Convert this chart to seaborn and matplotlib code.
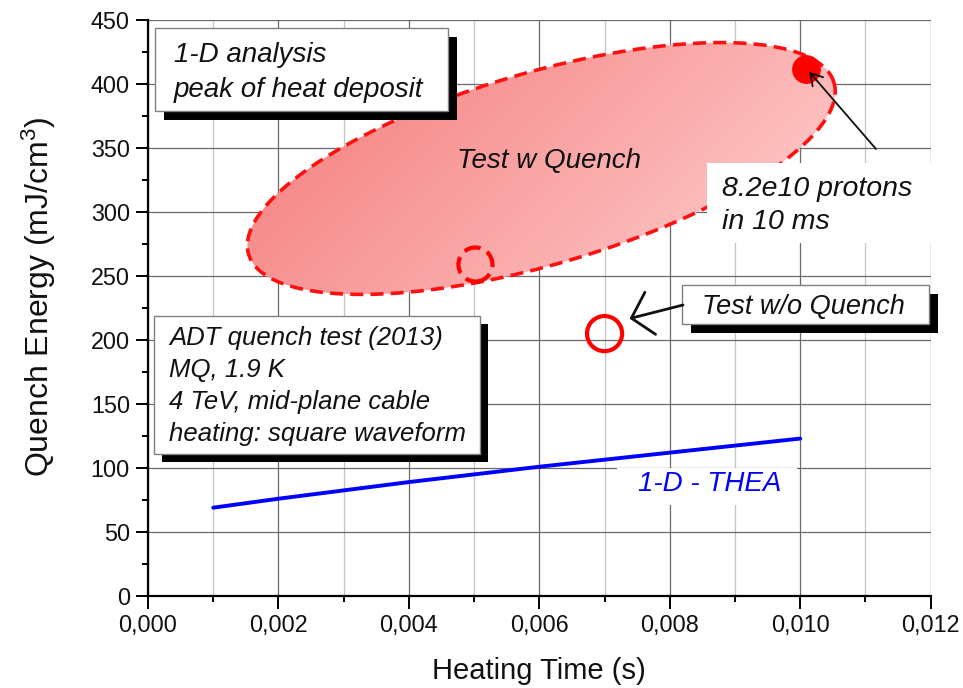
import numpy as np
import pandas as pd
import matplotlib
matplotlib.use("Agg")
import matplotlib.pyplot as plt
import seaborn as sns
from matplotlib.patches import Rectangle, Polygon
from matplotlib.ticker import MultipleLocator, FuncFormatter

# ---------------- data ----------------
thea_time = [0.001, 0.002, 0.004, 0.006, 0.008, 0.010]
thea_energy = [69, 76, 89, 101, 112, 123]

quench_time = [0.01009]
quench_energy = [412]

noquench_time = [0.00700]
noquench_energy = [205]

dashed_time = [0.00502]
dashed_energy = [259]

# "Test w Quench" region (centre in data units, semi-axes in pixels, angle in deg)
region_center = (0.00603, 334)
region_axes_px = (305, 96)
region_angle = 16.35

box1_lines = ["1-D analysis", "peak of heat deposit"]
box2_lines = ["ADT quench test (2013)", "MQ, 1.9 K", "4 TeV, mid-plane cable",
              "heating: square waveform"]
proton_lines = ["8.2e10 protons", "in 10 ms"]

# ---------------- style ----------------
sns.set_theme(style="white")
plt.rcParams["font.family"] = ["Liberation Sans", "DejaVu Sans"]
plt.rcParams["mathtext.fontset"] = "custom"
plt.rcParams["mathtext.rm"] = "Liberation Sans"
plt.rcParams["mathtext.it"] = "Liberation Sans:italic"

W, H = 963, 688
fig = plt.figure(figsize=(W / 100, H / 100), dpi=100)
AX_L, AX_R, AX_T, AX_B = 148, 930.7, 20, 596
ax = fig.add_axes([AX_L / W, (H - AX_B) / H, (AX_R - AX_L) / W, (AX_B - AX_T) / H])
ax.set_xlim(0, 0.012)
ax.set_ylim(0, 450)

px_per_x = (AX_R - AX_L) / 0.012
px_per_y = (AX_B - AX_T) / 450.0


def axf(px, py):
    return ((px - AX_L) / (AX_R - AX_L), (AX_B - py) / (AX_B - AX_T))


# grid
ax.xaxis.set_major_locator(MultipleLocator(0.002))
ax.xaxis.set_minor_locator(MultipleLocator(0.001))
ax.yaxis.set_major_locator(MultipleLocator(50))
ax.yaxis.set_minor_locator(MultipleLocator(25))
ax.set_axisbelow(True)
ax.grid(True, which="major", axis="both", color="#6a6a6a", lw=0.9, zorder=0)
ax.grid(True, which="minor", axis="x", color="#c4c4c4", lw=0.9, zorder=0)

for s in ["top", "right"]:
    ax.spines[s].set_visible(False)
for s in ["left", "bottom"]:
    ax.spines[s].set_color("black")
    ax.spines[s].set_linewidth(1.6)
    ax.spines[s].set_zorder(6)

ax.tick_params(which="major", direction="out", length=9, width=1.4, color="black",
               labelsize=16.8, labelcolor="#111111", pad=4.0, left=True, bottom=True)
ax.tick_params(which="minor", direction="out", length=4.5, width=1.4, color="black",
               left=True, bottom=True)
ax.xaxis.set_major_formatter(FuncFormatter(lambda v, p: f"{v:.3f}".replace(".", ",")))
ax.yaxis.set_major_formatter(FuncFormatter(lambda v, p: f"{v:.0f}"))

ax.set_xlabel("Heating Time (s)", fontsize=21, color="#111111")
ax.set_ylabel("Quench Energy (mJ/cm$^{3}$)", fontsize=23, color="#111111")
ax.xaxis.set_label_coords(0.5, (AX_B - 657) / (AX_B - AX_T))
ax.yaxis.set_label_coords((58 - AX_L) / (AX_R - AX_L), (AX_B - 297) / (AX_B - AX_T))

# ---------------- "Test w Quench" region with gradient ----------------
cx, cy = region_center
a_px, b_px = region_axes_px
th = np.deg2rad(region_angle)
t = np.linspace(0, 2 * np.pi, 400)
ex_px = a_px * np.cos(t) * np.cos(th) - b_px * np.sin(t) * np.sin(th)
ey_px = a_px * np.cos(t) * np.sin(th) + b_px * np.sin(t) * np.cos(th)
ex = cx + ex_px / px_per_x
ey = cy + ey_px / px_per_y
poly = Polygon(np.column_stack([ex, ey]), closed=True, facecolor="none",
               edgecolor="none", zorder=2)
ax.add_patch(poly)

gx = np.linspace(ex.min(), ex.max(), 300)
gy = np.linspace(ey.min(), ey.max(), 150)
GX, GY = np.meshgrid(gx, gy)
sx = GX * px_per_x
sy = -GY * px_per_y
val = sx + sy
val = (val - val.min()) / (val.max() - val.min())
c0 = np.array([245, 120, 120]) / 255.0
c1 = np.array([255, 210, 210]) / 255.0
img = c0[None, None, :] * (1 - val[..., None]) + c1[None, None, :] * val[..., None]
im = ax.imshow(img, extent=[gx[0], gx[-1], gy[0], gy[-1]], origin="lower",
               aspect="auto", zorder=2, interpolation="bilinear")
im.set_clip_path(poly)
ax.plot(ex, ey, color="#ff1010", lw=2.6, ls=(0, (3.6, 2.0)), zorder=3)
ax.set_xlim(0, 0.012)
ax.set_ylim(0, 450)

# ---------------- boxes ----------------
def shadow_box(x0, y0, x1, y1, dx, dy, edge="#808080"):
    a0 = axf(x0 + dx, y1 + dy)
    a1 = axf(x1 + dx, y0 + dy)
    ax.add_patch(Rectangle(a0, a1[0] - a0[0], a1[1] - a0[1], transform=ax.transAxes,
                           facecolor="black", edgecolor="none", zorder=7, clip_on=False))
    b0 = axf(x0, y1)
    b1 = axf(x1, y0)
    ax.add_patch(Rectangle(b0, b1[0] - b0[0], b1[1] - b0[1], transform=ax.transAxes,
                           facecolor="white", edgecolor=edge, lw=1.0, zorder=8, clip_on=False))


def text_lines(lines, x_px, y0_px, dy_px, size, color="#111111", z=9):
    for i, line in enumerate(lines):
        ax.text(*axf(x_px, y0_px + i * dy_px), line, transform=ax.transAxes,
                fontsize=size, style="italic", va="baseline", ha="left",
                color=color, zorder=z)


shadow_box(155, 28, 448, 111, 9, 9)
text_lines(box1_lines, 174, 62, 35, 20)

shadow_box(154, 316, 480, 454, 8, 8)
text_lines(box2_lines, 169, 345, 32, 18.5)

shadow_box(682, 285, 929, 324, 9, 9)
text_lines(["Test w/o Quench"], 702, 314, 0, 19.5)

# white box for the proton annotation
p0 = axf(707, 243)
p1 = axf(935, 163)
ax.add_patch(Rectangle(p0, p1[0] - p0[0], p1[1] - p0[1], transform=ax.transAxes,
                       facecolor="white", edgecolor="none", zorder=7, clip_on=False))
text_lines(proton_lines, 722, 196, 33, 20.5)

# region label
ax.text(*axf(549, 168), "Test w Quench", transform=ax.transAxes, fontsize=20,
        style="italic", va="baseline", ha="center", color="#111111", zorder=5)

# ---------------- THEA line ----------------
df = pd.DataFrame({"time": thea_time, "energy": thea_energy})
sns.lineplot(data=df, x="time", y="energy", color="#0000ff", lw=2.8, ax=ax, zorder=6,
             legend=False)
tb0 = axf(617, 505)
tb1 = axf(797, 468)
ax.add_patch(Rectangle(tb0, tb1[0] - tb0[0], tb1[1] - tb0[1], transform=ax.transAxes,
                       facecolor="white", edgecolor="none", zorder=1.5))
ax.text(*axf(710, 491), "1-D - THEA", transform=ax.transAxes, fontsize=20,
        style="italic", va="baseline", ha="center", color="#0000ff", zorder=6)

# ---------------- markers ----------------
sns.scatterplot(x=quench_time, y=quench_energy, ax=ax, s=430, color="#ff0000",
                edgecolor="#ff0000", linewidth=0, zorder=6, legend=False)
sns.scatterplot(x=noquench_time, y=noquench_energy, ax=ax, s=640, facecolor="none",
                edgecolor="#ff0000", linewidth=3.0, zorder=6, legend=False)
sns.scatterplot(x=dashed_time, y=dashed_energy, ax=ax, s=600, facecolor="none",
                edgecolor="#ff0000", linewidth=3.0, linestyle=(0, (4.0, 1.8)),
                zorder=6, legend=False)

# ---------------- arrows ----------------
ax.annotate("", xy=(quench_time[0] + 3 / px_per_x, quench_energy[0] - 3 / px_per_y),
            xytext=axf(876, 149), textcoords=ax.transAxes,
            arrowprops=dict(arrowstyle="->,head_length=0.42,head_width=0.25",
                            color="#111111", lw=1.3, mutation_scale=20,
                            shrinkA=0, shrinkB=0), zorder=10)
ax.annotate("", xy=(noquench_time[0] + 25 / px_per_x, noquench_energy[0] + 15 / px_per_y),
            xytext=axf(683, 305), textcoords=ax.transAxes,
            arrowprops=dict(arrowstyle="->,head_length=0.7,head_width=0.78",
                            color="#111111", lw=2.0, mutation_scale=20,
                            shrinkA=0, shrinkB=0), zorder=10)

ax.set_xlim(0, 0.012)
ax.set_ylim(0, 450)
fig.savefig("out.png", dpi=100)
